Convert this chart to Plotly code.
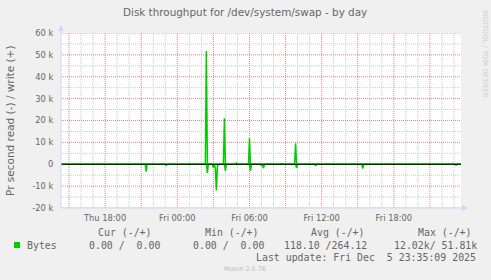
import plotly.graph_objects as go

# ---------------- data ----------------
write_times = ["2025-12-04 14:20", "2025-12-05 02:20", "2025-12-05 02:25", "2025-12-05 02:30",
               "2025-12-05 03:50", "2025-12-05 03:55", "2025-12-05 04:00",
               "2025-12-05 04:50", "2025-12-05 04:55", "2025-12-05 05:00",
               "2025-12-05 05:55", "2025-12-05 06:00", "2025-12-05 06:05",
               "2025-12-05 08:35", "2025-12-05 08:40", "2025-12-05 08:45",
               "2025-12-05 09:45", "2025-12-05 09:50", "2025-12-05 09:55",
               "2025-12-05 23:35"]
write_values = [0, 0, 51810, 0,
                0, 21000, 0,
                0, 500, 0,
                0, 11900, 0,
                0, 400, 0,
                0, 9600, 0,
                0]

read_times = ["2025-12-04 14:20",
              "2025-12-04 21:20", "2025-12-04 21:25", "2025-12-04 21:30",
              "2025-12-04 23:00", "2025-12-04 23:05", "2025-12-04 23:10",
              "2025-12-04 23:50", "2025-12-04 23:55", "2025-12-05 00:00",
              "2025-12-05 02:25", "2025-12-05 02:30", "2025-12-05 02:35",
              "2025-12-05 02:55", "2025-12-05 03:00", "2025-12-05 03:05",
              "2025-12-05 03:10", "2025-12-05 03:15", "2025-12-05 03:20", "2025-12-05 03:25",
              "2025-12-05 03:55", "2025-12-05 04:00", "2025-12-05 04:05",
              "2025-12-05 06:00", "2025-12-05 06:05", "2025-12-05 06:10",
              "2025-12-05 06:55", "2025-12-05 07:00", "2025-12-05 07:05",
              "2025-12-05 07:10", "2025-12-05 07:15",
              "2025-12-05 09:50", "2025-12-05 09:55", "2025-12-05 10:00",
              "2025-12-05 10:50", "2025-12-05 10:55", "2025-12-05 11:00",
              "2025-12-05 11:25", "2025-12-05 11:30", "2025-12-05 11:35",
              "2025-12-05 15:20", "2025-12-05 15:25", "2025-12-05 15:30",
              "2025-12-05 22:20", "2025-12-05 22:25", "2025-12-05 22:30",
              "2025-12-05 23:05", "2025-12-05 23:10", "2025-12-05 23:15",
              "2025-12-05 23:35"]
read_values = [0,
               0, 3400, 0,
               0, 500, 0,
               0, 300, 0,
               0, 4000, 0,
               0, 1500, 0,
               2000, 12020, 1000, 0,
               0, 3000, 0,
               0, 3000, 0,
               0, 800, 0,
               1800, 0,
               0, 1800, 0,
               0, 300, 0,
               0, 800, 0,
               0, 2000, 0,
               0, 300, 0,
               0, 400, 0,
               0]

x_tick_vals = ["2025-12-04 15:00", "2025-12-04 18:00", "2025-12-04 21:00", "2025-12-05 00:00",
               "2025-12-05 03:00", "2025-12-05 06:00", "2025-12-05 09:00", "2025-12-05 12:00",
               "2025-12-05 15:00", "2025-12-05 18:00", "2025-12-05 21:00"]
x_tick_text = ["", "Thu 18:00", "", "Fri 00:00", "", "Fri 06:00", "", "Fri 12:00", "", "Fri 18:00", ""]
x_minor_vals = ["2025-12-04 16:00", "2025-12-04 17:00", "2025-12-04 19:00", "2025-12-04 20:00",
                "2025-12-04 22:00", "2025-12-04 23:00", "2025-12-05 01:00", "2025-12-05 02:00",
                "2025-12-05 04:00", "2025-12-05 05:00", "2025-12-05 07:00", "2025-12-05 08:00",
                "2025-12-05 10:00", "2025-12-05 11:00", "2025-12-05 13:00", "2025-12-05 14:00",
                "2025-12-05 16:00", "2025-12-05 17:00", "2025-12-05 19:00", "2025-12-05 20:00",
                "2025-12-05 22:00", "2025-12-05 23:00"]
y_tick_vals = [-20000, -10000, 0, 10000, 20000, 30000, 40000, 50000, 60000]
y_tick_text = ["-20 k", "-10 k", "0", "10 k", "20 k", "30 k", "40 k", "50 k", "60 k"]
y_minor_vals = [-15000, -5000, 5000, 15000, 25000, 35000, 45000, 55000]

legend_headers = ["Cur (-/+)", "Min (-/+)", "Avg (-/+)", "Max (-/+)"]
legend_values = ["0.00 /  0.00", "0.00 /  0.00", "118.10 /264.12", "12.02k/ 51.81k"]
series_name = "Bytes"
last_update = "Last update: Fri Dec  5 23:35:09 2025"

GREEN = "#00CC00"
FONTC = "#666666"
AXISC = "#CFD6F8"
MGRID = "#F08080"
GRID = "#C8C8C8"

# plot area in pixels
L, R, T, B = 61, 461, 33, 208


def px(x):
    return (x - L) / (R - L)


def py(y):
    return (B - y) / (B - T)


fig = go.Figure()
fig.add_trace(go.Scatter(x=read_times, y=[-v for v in read_values], mode="lines",
                         line=dict(color=GREEN, width=1.5), name=series_name + " read",
                         showlegend=False, hoverinfo="skip"))
fig.add_trace(go.Scatter(x=write_times, y=write_values, mode="lines",
                         line=dict(color=GREEN, width=1.5), name=series_name,
                         showlegend=False, hoverinfo="skip"))

shapes = []
# grid lines: minor first, major on top
for v in x_minor_vals:
    shapes.append(dict(type="line", xref="x", yref="y", x0=v, x1=v, y0=-20000, y1=60000,
                       line=dict(color=GRID, width=1, dash="1px,1px"), layer="between"))
for v in y_minor_vals:
    shapes.append(dict(type="line", xref="paper", yref="y", x0=0, x1=1, y0=v, y1=v,
                       line=dict(color=GRID, width=1, dash="1px,1px"), layer="between"))
for v in x_tick_vals:
    shapes.append(dict(type="line", xref="x", yref="y", x0=v, x1=v, y0=-20000, y1=60000,
                       line=dict(color=MGRID, width=1, dash="1px,1px"), layer="between"))
for v in y_tick_vals:
    shapes.append(dict(type="line", xref="paper", yref="y", x0=0, x1=1, y0=v, y1=v,
                       line=dict(color=MGRID, width=1, dash="1px,1px"), layer="between"))
# zero line
shapes.append(dict(type="line", xref="paper", yref="y", x0=0, x1=1, y0=0, y1=0,
                   line=dict(color="#000000", width=1), layer="above"))
# axis lines with arrows
shapes.append(dict(type="line", xref="paper", yref="paper", x0=px(L), x1=px(L), y0=py(B), y1=py(28),
                   line=dict(color=AXISC, width=1), layer="above"))
shapes.append(dict(type="line", xref="paper", yref="paper", x0=px(L), x1=px(465), y0=py(B), y1=py(B),
                   line=dict(color=AXISC, width=1), layer="above"))
shapes.append(dict(type="path", xref="paper", yref="paper",
                   path=f"M {px(58)} {py(31)} L {px(64)} {py(31)} L {px(61)} {py(25)} Z",
                   fillcolor=AXISC, line=dict(color=AXISC, width=0), layer="above"))
shapes.append(dict(type="path", xref="paper", yref="paper",
                   path=f"M {px(462)} {py(205)} L {px(462)} {py(211)} L {px(468)} {py(208)} Z",
                   fillcolor=AXISC, line=dict(color=AXISC, width=0), layer="above"))
# legend colour box
shapes.append(dict(type="rect", xref="paper", yref="paper", x0=px(14), x1=px(20), y0=py(248), y1=py(242),
                   fillcolor=GREEN, line=dict(width=0)))

ann = []
mono = dict(family="DejaVu Sans Mono", size=9.9, color=FONTC)
header_x = [97, 204, 310, 417]
value_x = [88, 192, 283, 393]
for hx, h in zip(header_x, legend_headers):
    ann.append(dict(x=px(hx), y=py(232.5), text=h, font=mono))
ann.append(dict(x=px(26), y=py(245), text=series_name, font=mono))
for vx, v in zip(value_x, legend_values):
    ann.append(dict(x=px(vx), y=py(245), text=v.replace(" ", "&nbsp;"), font=mono))
ann.append(dict(x=px(255), y=py(257.5), text=last_update.replace(" ", "&nbsp;"), font=mono))
for a in ann:
    a.update(xref="paper", yref="paper", xanchor="left", yanchor="middle", showarrow=False,
             borderpad=0)

# watermark / title / side text
ann.append(dict(x=px(245), y=py(268.5), xref="paper", yref="paper", text="Munin 2.0.76",
                showarrow=False, xanchor="center", yanchor="middle", borderpad=0,
                font=dict(family="DejaVu Sans", size=6.4, color="#BBBBBB")))
ann.append(dict(x=px(244.5), y=py(12), xref="paper", yref="paper",
                text="Disk throughput for /dev/system/swap - by day",
                showarrow=False, xanchor="center", yanchor="middle", borderpad=0,
                font=dict(family="DejaVu Sans", size=10.4, color=FONTC)))
ann.append(dict(x=px(485), y=py(54), xref="paper", yref="paper", text="RRDTOOL / TOBI OETIKER",
                showarrow=False, xanchor="center", yanchor="middle", textangle=90, borderpad=0,
                font=dict(family="DejaVu Sans", size=6.8, color="#CCCCCC")))
ann.append(dict(x=px(10), y=py(121), xref="paper", yref="paper", text="Pr second read (-) / write (+)",
                showarrow=False, xanchor="center", yanchor="middle", textangle=-90, borderpad=0,
                font=dict(family="DejaVu Sans", size=10.5, color=FONTC)))

fig.update_layout(
    width=491, height=280,
    margin=dict(l=L, r=491 - R, t=T, b=280 - B, pad=0),
    paper_bgcolor="#F0F0F0", plot_bgcolor="#FFFFFF",
    showlegend=False,
    shapes=shapes, annotations=ann,
    font=dict(family="DejaVu Sans", color=FONTC),
)
fig.update_xaxes(
    type="date", range=["2025-12-04 14:20", "2025-12-05 23:35"],
    tickvals=x_tick_vals, ticktext=x_tick_text, tickangle=0,
    showgrid=False, zeroline=False, showline=False,
    ticks="outside", ticklen=2, tickcolor="rgba(0,0,0,0)",
    tickfont=dict(family="DejaVu Sans", size=8.3, color=FONTC), fixedrange=True,
)
fig.update_yaxes(
    range=[-20000, 60000], tickvals=y_tick_vals, ticktext=y_tick_text,
    showgrid=False, zeroline=False, showline=False,
    ticks="outside", ticklen=5, tickcolor="rgba(0,0,0,0)",
    tickfont=dict(family="DejaVu Sans", size=8.3, color=FONTC), fixedrange=True,
)

fig.write_html("out.html", config=dict(displayModeBar=False))
